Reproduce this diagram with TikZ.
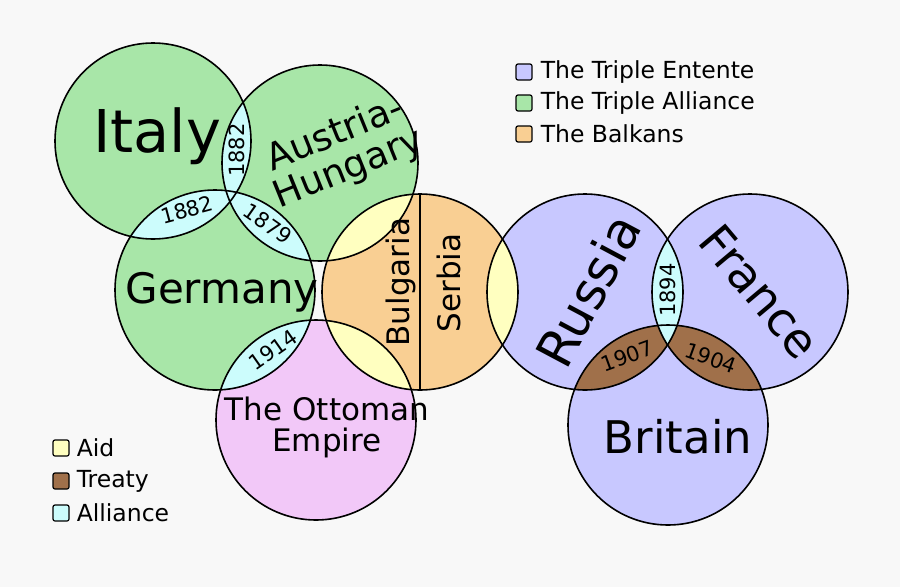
\documentclass[tikz,border=0pt]{standalone}
\usepackage{fontspec}
\setmainfont{DejaVu Sans}
\begin{document}
\begin{tikzpicture}[x=1pt,y=-1pt,line width=1.6pt]
\definecolor{bg}{HTML}{F8F8F8}
\definecolor{grn}{HTML}{A8E6A8}
\definecolor{blu}{HTML}{C8C8FF}
\definecolor{org}{HTML}{F9CF93}
\definecolor{pnk}{HTML}{F2C8F8}
\definecolor{yel}{HTML}{FFFFC0}
\definecolor{brn}{HTML}{A0704A}
\definecolor{cya}{HTML}{CCFCFC}
\tikzset{lbl/.style={font=\fontsize{#1}{#1}\selectfont,align=center,inner sep=0pt},
 key/.style={draw,line width=1.2pt,minimum size=16pt,inner sep=0pt,rounded corners=2pt},
 ktxt/.style={anchor=west,font=\fontsize{23.5}{23.5}\selectfont,inner sep=0pt}}
\fill[bg] (0,0) rectangle (900,587);
\useasboundingbox (0,0) rectangle (900,587);
\def\It{(153,141) circle (98)}
\def\Au{(320,163) circle (98)}
\def\Ge{(215,290) circle (100)}
\def\Ot{(316,420) circle (100)}
\def\Ba{(420,292) circle (98)}
\def\Ru{(585,292) circle (98)}
\def\Fr{(750,292) circle (98)}
\def\Br{(668,425) circle (100)}
\fill[grn] \It; \fill[grn] \Au; \fill[grn] \Ge;
\fill[pnk] \Ot; \fill[org] \Ba;
\fill[blu] \Ru; \fill[blu] \Fr; \fill[blu] \Br;
\begin{scope}\clip \It; \fill[cya] \Au; \fill[cya] \Ge; \end{scope}
\begin{scope}\clip \Au; \fill[cya] \Ge; \fill[yel] \Ba; \end{scope}
\begin{scope}\clip \Ge; \fill[cya] \Ot; \end{scope}
\begin{scope}\clip \Ba; \fill[yel] \Ot; \fill[yel] \Ru; \end{scope}
\begin{scope}\clip \Br; \fill[brn] \Ru; \fill[brn] \Fr; \end{scope}
\begin{scope}\clip \Ru; \fill[cya] \Fr; \end{scope}
\foreach \c in {\It,\Au,\Ge,\Ot,\Ba,\Ru,\Fr,\Br} \draw \c;
\coordinate (bt) at (420,194); \coordinate (bb) at (420,390);
\draw (bt) -- (bb);
\node[lbl=59] (it) at (157,136) {Italy};
\node[lbl=37,rotate=22] (au) at (342,152) {Austria-\\Hungary};
\node[lbl=42] (ge) at (222,292) {Germany};
\node[lbl=31,text height=] (ot) at (327,427) {The Ottoman\\Empire};
\node[lbl=31,rotate=90] (bu) at (401,282) {Bulgaria};
\node[lbl=31,rotate=90] (se) at (449,283) {Serbia};
\node[lbl=51,rotate=62] (ru) at (588,290) {Russia};
\node[lbl=47,rotate=-50] (fr) at (760,292) {France};
\node[lbl=45] (br) at (678,437) {Britain};
\node[lbl=21,rotate=90] (y1) at (237,150) {1882};
\node[lbl=21,rotate=15] (y2) at (187,210) {1882};
\node[lbl=21,rotate=-35] (y3) at (268,224) {1879};
\node[lbl=21,rotate=35] (y4) at (273,350) {1914};
\node[lbl=21,rotate=90] (y5) at (668,290) {1894};
\node[lbl=21,rotate=20] (y6) at (627,356) {1907};
\node[lbl=21,rotate=-20] (y7) at (711,358) {1904};
\node[key,fill=blu] (k1) at (524,72) {}; \node[ktxt] (t1) at (540,72) {The Triple Entente};
\node[key,fill=grn] (k2) at (524,103) {}; \node[ktxt] (t2) at (540,103) {The Triple Alliance};
\node[key,fill=org] (k3) at (524,134) {}; \node[ktxt] (t3) at (540,134) {The Balkans};
\node[key,fill=yel] (k4) at (61,448) {}; \node[ktxt] (t4) at (76,448) {Aid};
\node[key,fill=brn] (k5) at (61,481) {}; \node[ktxt] (t5) at (76,481) {Treaty};
\node[key,fill=cya] (k6) at (61,513) {}; \node[ktxt] (t6) at (76,513) {Alliance};
\end{tikzpicture}
\end{document}
